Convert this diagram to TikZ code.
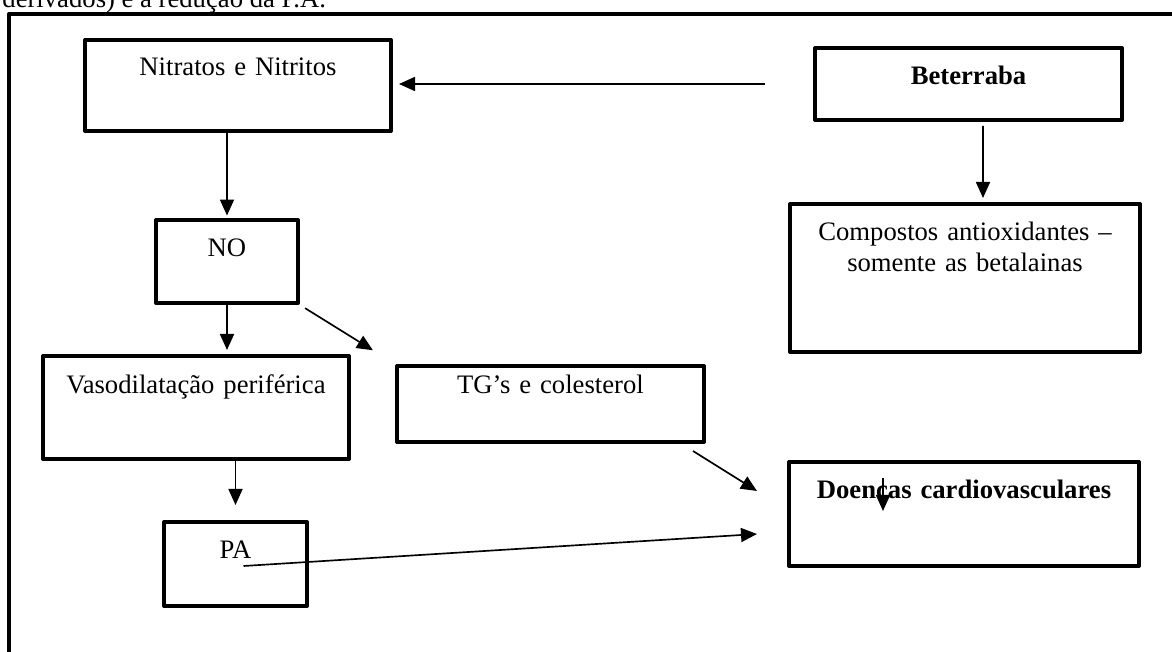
\documentclass[tikz,border=0pt]{standalone}
\usepackage{fontspec}
\setmainfont{Liberation Serif}
\usetikzlibrary{positioning,arrows.meta,calc}

\tikzset{
  caixa/.style={draw, line width=1.8pt, line join=round, inner sep=0pt, align=center, anchor=north west, font=\fontsize{12}{13.95}\selectfont},
  seta/.style={-{Triangle[length=7.2pt,width=6.3pt]}, line width=0.75pt},
}

\begin{document}
\begin{tikzpicture}[x=0.45pt, y=-0.45pt]
    \useasboundingbox (0,0) rectangle (1172,652);
    \clip (0,0) rectangle (1172,652);
    \node[anchor=base west, inner sep=0pt, font=\fontsize{12}{13.95}\selectfont] (intro) at (2,7.5) {derivados) e a redução da P.A.};
    \draw[line width=1.8pt, line join=round] (9,14) rectangle (1190,670);

    \node[caixa, text width=137.7pt, text height=16.2pt, text depth=24.75pt] (nit) at (83,38) {Nitratos e Nitritos};
    \node[caixa, text width=138.15pt, text height=16.65pt, text depth=15.75pt, font=\fontsize{12}{13.95}\selectfont\bfseries] (beet) at (813,46) {Beterraba};
    \node[caixa, text width=63.9pt, text height=16.65pt, text depth=20.7pt] (no) at (154,218) {NO};
    \node[caixa, text width=157.5pt, text height=16.65pt, text depth=49.95pt] (comp) at (788,202) {Compostos antioxidantes –\\somente as betalainas};
    \node[caixa, text width=137.7pt, text height=17.1pt, text depth=29.25pt] (vaso) at (41,354) {Vasodilatação periférica};
    \node[caixa, text width=138.15pt, text height=12.6pt, text depth=21.6pt] (tg) at (395,364) {TG’s e colesterol};
    \node[caixa, text width=64.35pt, text height=16.65pt, text depth=21.15pt] (pa) at (162,520) {PA};
    \node[caixa, text width=157.5pt, text height=16.65pt, text depth=30.15pt, font=\fontsize{12}{13.95}\selectfont\bfseries] (doen) at (787,460) {Doencas cardiovasculares};

    \draw[seta, shorten <=21.6pt, shorten >=2.7pt] (beet.west) -- (nit.east |- beet.west);
    \draw[seta, shorten >=1.1pt] (no.north |- nit.south) -- (no.north);
    \draw[seta, shorten >=1.8pt] (no.south) -- (no.south |- vaso.north);
    \draw[seta, shorten <=2.7pt, shorten >=11.7pt] (no.south east) -- (tg.north west);
    \draw[seta, shorten >=6.75pt] (pa.north |- vaso.south) -- (pa.north);
    \draw[seta] ($(beet.south)+(14.5,4)$) -- ($(comp.north)+(18,-4)$);
    \draw[seta] ($(tg.south east)+(-13,7)$) -- ($(doen.west)+(-30,-23)$);
    \draw[seta] ($(pa.center)+(8,2)$) -- ($(doen.west)+(-30,20)$);
    \draw[seta] ($(doen.north)+(-81,18)$) -- ($(doen.north)+(-81,51)$);
\end{tikzpicture}
\end{document}
